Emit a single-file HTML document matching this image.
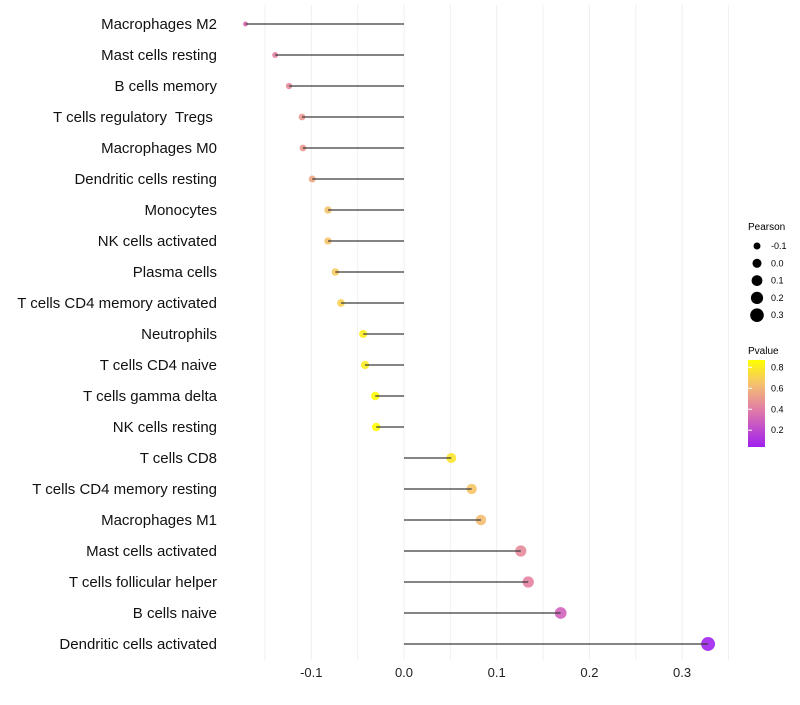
<!DOCTYPE html>
<html><head><meta charset="utf-8"><style>
body{margin:0;background:#fff;font-family:"Liberation Sans",sans-serif}
text{white-space:pre}
</style></head><body>
<svg id="chart" width="800" height="700" xmlns="http://www.w3.org/2000/svg">
<defs><linearGradient id="pg" x1="0" y1="1" x2="0" y2="0">
<stop offset="0" stop-color="#a020f0"/><stop offset="0.42" stop-color="#e07aa8"/><stop offset="0.72" stop-color="#f5c070"/><stop offset="1" stop-color="#ffff00"/></linearGradient></defs>
<g id="grid"></g><g id="points"></g><g id="marks"></g><g id="labels"></g><g id="ticks"></g>
<g font-size="9" fill="#000">
<text x="748" y="230" font-size="10">Pearson</text>
<g id="sizeleg"></g>
<text x="748" y="354" font-size="10">Pvalue</text>
<rect x="748" y="360" width="17" height="87" fill="url(#pg)"/>
<g id="colleg"></g>
</g>
</svg>
<script>
const cells=["Macrophages M2","Mast cells resting","B cells memory","T cells regulatory  Tregs ","Macrophages M0","Dendritic cells resting","Monocytes","NK cells activated","Plasma cells","T cells CD4 memory activated","Neutrophils","T cells CD4 naive","T cells gamma delta","NK cells resting","T cells CD8","T cells CD4 memory resting","Macrophages M1","Mast cells activated","T cells follicular helper","B cells naive","Dendritic cells activated"];
const pearson=[-0.171,-0.139,-0.124,-0.110,-0.109,-0.099,-0.082,-0.082,-0.074,-0.068,-0.044,-0.042,-0.031,-0.030,0.051,0.073,0.083,0.126,0.134,0.169,0.328];
const pvalue=[0.35,0.42,0.45,0.5,0.5,0.55,0.65,0.65,0.68,0.7,0.8,0.8,0.86,0.86,0.78,0.66,0.63,0.45,0.42,0.3,0.05];
const xTicks=[-0.1,0,0.1,0.2,0.3];
const xTickLabels=["-0.1","0.0","0.1","0.2","0.3"];
const sizeBreaks=[-0.1,0,0.1,0.2,0.3];
const colorBreaks=[0.2,0.4,0.6,0.8];
const NS="http://www.w3.org/2000/svg";
const X=v=>404+v*927, Y=i=>24+i*31;
const R=v=>Math.sqrt(Math.max(2.5,12+(v+0.1)*85));
const PY=p=>447-(p-0.04)/0.83*87;
function lerp(a,b,t){return a.map((x,i)=>Math.round(x+(b[i]-x)*t));}
function col(p){const st=[[0.04,[160,32,240]],[0.39,[224,122,168]],[0.64,[245,192,112]],[0.87,[255,255,0]]];
 p=Math.min(0.87,Math.max(0.04,p));for(let i=0;i<3;i++){if(p<=st[i+1][0]){const c=lerp(st[i][1],st[i+1][1],(p-st[i][0])/(st[i+1][0]-st[i][0]));return`rgb(${c})`;}}return"#ff0";}
function mk(t,a,par){const e=document.createElementNS(NS,t);for(const k in a)e.setAttribute(k,a[k]);document.getElementById(par).appendChild(e);return e;}
for(let v=-0.15;v<=0.351;v+=0.05){const g=mk("line",{x1:X(v),x2:X(v),y1:5,y2:660,stroke:"#efefef","stroke-width":1},"grid");

}
xTicks.forEach((v,i)=>{const t=mk("text",{x:X(v),y:677,"text-anchor":"middle","font-size":13,fill:"#222"},"ticks");t.textContent=xTickLabels[i];

});
cells.forEach((c,i)=>{
 const d=mk("circle",{cx:X(pearson[i]),cy:Y(i),r:R(pearson[i]),fill:col(pvalue[i]),"fill-opacity":0.9},"points");
 
 
 const l=mk("line",{x1:X(0),x2:X(pearson[i]),y1:Y(i),y2:Y(i),stroke:"#3a3a3a","stroke-width":1.2},"marks");
 
 
 const t=mk("text",{x:217,y:Y(i)+5,"text-anchor":"end","font-size":15,fill:"#111"},"labels");t.textContent=c;
 
 
});
sizeBreaks.forEach((v,i)=>{const y=246+i*17.3;
 const c=mk("circle",{cx:757,cy:y,r:R(v),fill:"#000"},"sizeleg");
 
 
 const t=mk("text",{x:771,y:y+3,"font-size":9},"sizeleg");t.textContent=v.toFixed(1);
 
 });
colorBreaks.forEach(p=>{const y=PY(p);
 const l=mk("line",{x1:748,x2:752,y1:y,y2:y,stroke:"#fff"},"colleg");
 
 
 const t=mk("text",{x:771,y:y+3,"font-size":9},"colleg");t.textContent=p.toFixed(1);
 
 });
</script>
</body></html>
